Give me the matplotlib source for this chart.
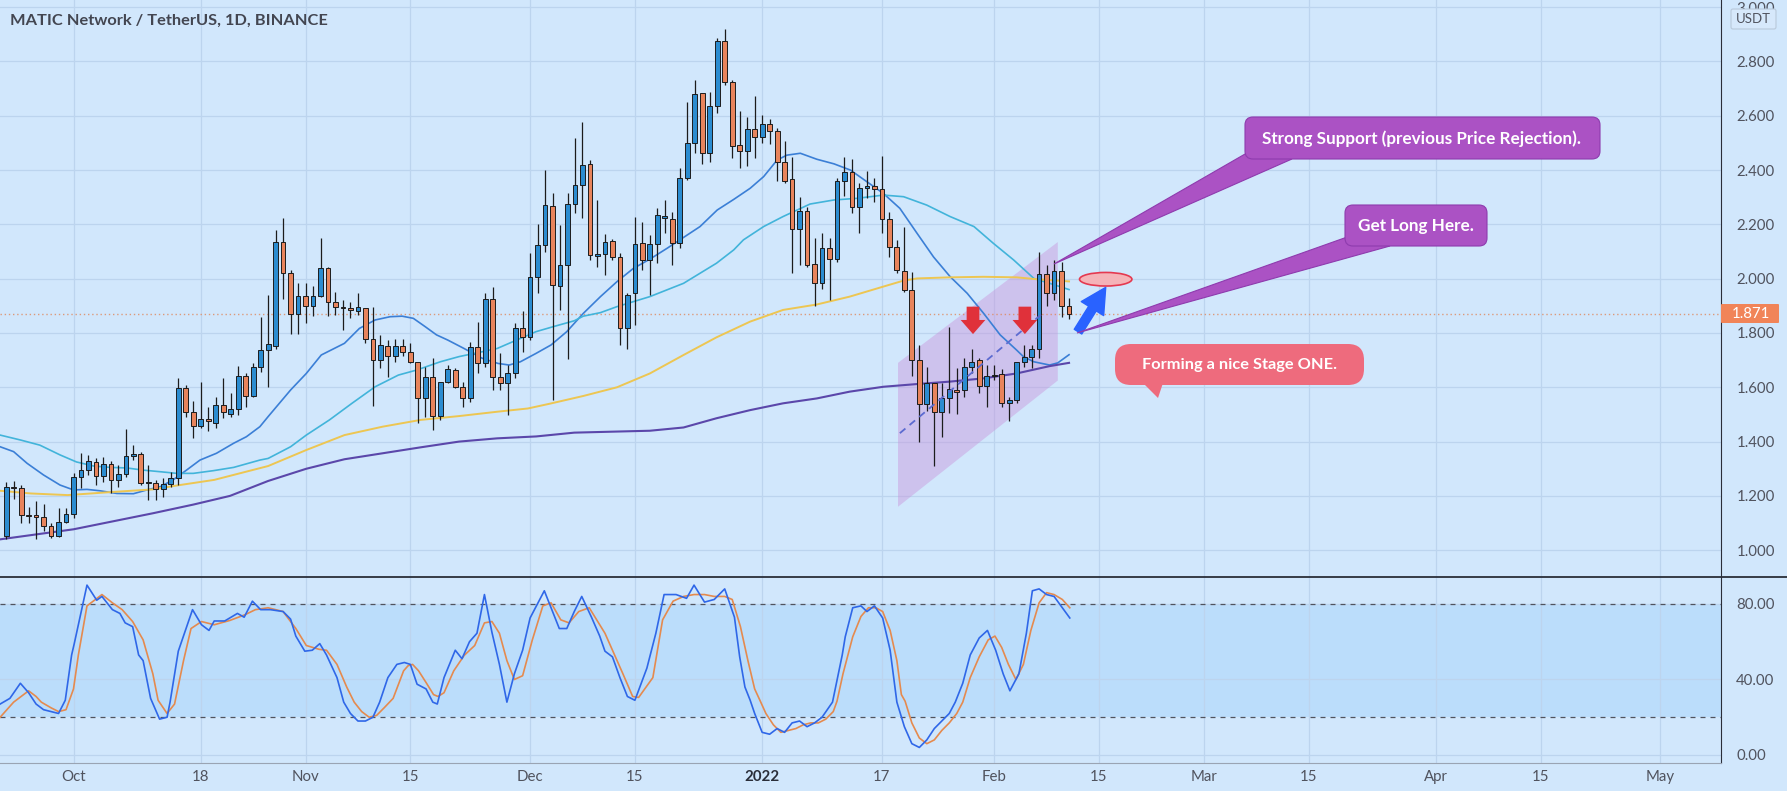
import matplotlib
matplotlib.use('Agg')
import matplotlib.pyplot as plt
from matplotlib.patches import Polygon, FancyBboxPatch, Ellipse
import numpy as np
import pandas as pd

W, H = 1787, 791

# daily candles 2021-09-22 .. 2022-02-11 (x = days since 2021-10-01)
start_date = '2021-09-22'
opens = [1.052, 1.234, 1.228, 1.130, 1.127, 1.124, 1.089, 1.052, 1.105, 1.133,
         1.268, 1.295, 1.326, 1.274, 1.317, 1.258, 1.279, 1.347, 1.354, 1.246,
         1.246, 1.224, 1.244, 1.265, 1.596, 1.508, 1.459, 1.482, 1.470, 1.535,
         1.502, 1.519, 1.641, 1.569, 1.676, 1.737, 1.753, 2.134, 2.020, 1.869,
         1.937, 1.901, 1.937, 2.038, 1.915, 1.894, 1.891, 1.882, 1.891, 1.777,
         1.700, 1.753, 1.715, 1.752, 1.729, 1.694, 1.559, 1.639, 1.495, 1.621,
         1.664, 1.600, 1.559, 1.750, 1.688, 1.924, 1.639, 1.615, 1.651, 1.817,
         1.784, 2.007, 2.124, 2.268, 1.973, 2.050, 2.275, 2.345, 2.421, 2.084,
         2.091, 2.140, 2.081, 1.817, 1.946, 2.130, 2.069, 2.127, 2.222, 2.220,
         2.130, 2.370, 2.499, 2.683, 2.464, 2.636, 2.875, 2.723, 2.492, 2.472,
         2.550, 2.521, 2.569, 2.545, 2.431, 2.366, 2.182, 2.249, 2.054, 1.983,
         2.112, 2.071, 2.360, 2.394, 2.263, 2.333, 2.343, 2.329, 2.219, 2.118,
         2.030, 1.958, 1.700, 1.538, 1.617, 1.508, 1.559, 1.590, 1.590, 1.674,
         1.700, 1.605, 1.642, 1.648, 1.541, 1.555, 1.694, 1.710, 1.740, 2.017,
         1.946, 2.030, 1.900]
highs = [1.250, 1.255, 1.240, 1.160, 1.180, 1.170, 1.100, 1.154, 1.154, 1.285,
         1.357, 1.351, 1.338, 1.344, 1.330, 1.314, 1.445, 1.387, 1.363, 1.314,
         1.258, 1.265, 1.289, 1.635, 1.608, 1.550, 1.621, 1.529, 1.565, 1.635,
         1.578, 1.678, 1.651, 1.688, 1.860, 1.940, 2.179, 2.222, 2.032, 1.983,
         1.983, 1.973, 2.151, 2.044, 1.952, 1.922, 1.915, 1.946, 1.891, 1.897,
         1.793, 1.774, 1.777, 1.777, 1.764, 1.694, 1.676, 1.707, 1.621, 1.682,
         1.670, 1.621, 1.768, 1.842, 1.946, 1.971, 1.725, 1.682, 1.836, 1.881,
         2.093, 2.200, 2.400, 2.317, 2.198, 2.317, 2.519, 2.578, 2.437, 2.290,
         2.163, 2.145, 2.094, 1.948, 2.226, 2.210, 2.161, 2.259, 2.290, 2.247,
         2.409, 2.652, 2.732, 2.683, 2.689, 2.885, 2.920, 2.732, 2.619, 2.597,
         2.673, 2.603, 2.588, 2.554, 2.507, 2.449, 2.302, 2.263, 2.149, 2.167,
         2.151, 2.370, 2.449, 2.440, 2.351, 2.397, 2.370, 2.453, 2.244, 2.143,
         2.192, 2.026, 1.756, 1.674, 1.617, 1.615, 1.823, 1.670, 1.707, 1.740,
         1.707, 1.682, 1.682, 1.666, 1.566, 1.694, 1.756, 1.756, 2.100, 2.050,
         2.070, 2.060, 1.930]
lows = [1.040, 1.190, 1.100, 1.100, 1.040, 1.070, 1.045, 1.048, 1.100, 1.120,
        1.228, 1.277, 1.240, 1.252, 1.212, 1.234, 1.271, 1.332, 1.240, 1.185,
        1.185, 1.197, 1.234, 1.240, 1.492, 1.412, 1.449, 1.440, 1.449, 1.486,
        1.492, 1.498, 1.529, 1.565, 1.658, 1.602, 1.740, 1.924, 1.795, 1.795,
        1.838, 1.864, 1.934, 1.864, 1.866, 1.811, 1.854, 1.866, 1.762, 1.531,
        1.670, 1.639, 1.694, 1.715, 1.688, 1.467, 1.489, 1.443, 1.480, 1.615,
        1.596, 1.529, 1.547, 1.651, 1.676, 1.590, 1.590, 1.498, 1.633, 1.731,
        1.774, 1.946, 2.100, 1.553, 1.885, 1.703, 2.241, 2.222, 2.069, 2.044,
        2.013, 2.069, 1.756, 1.740, 1.829, 2.032, 1.940, 2.057, 2.167, 2.050,
        2.112, 2.364, 2.462, 2.423, 2.431, 2.612, 2.713, 2.443, 2.407, 2.416,
        2.443, 2.501, 2.496, 2.361, 2.354, 2.020, 2.050, 2.044, 1.900, 1.961,
        1.922, 2.060, 2.305, 2.241, 2.167, 2.296, 2.284, 2.167, 2.080, 2.020,
        1.952, 1.642, 1.400, 1.514, 1.310, 1.416, 1.504, 1.502, 1.566, 1.651,
        1.580, 1.526, 1.627, 1.526, 1.477, 1.541, 1.676, 1.670, 1.707, 1.900,
        1.920, 1.860, 1.850]
closes = [1.234, 1.228, 1.130, 1.127, 1.124, 1.089, 1.052, 1.105, 1.133, 1.271,
          1.295, 1.328, 1.274, 1.317, 1.258, 1.281, 1.347, 1.354, 1.246, 1.246,
          1.224, 1.244, 1.265, 1.596, 1.508, 1.459, 1.482, 1.476, 1.535, 1.508,
          1.520, 1.641, 1.569, 1.676, 1.737, 1.758, 2.134, 2.020, 1.869, 1.937,
          1.901, 1.937, 2.038, 1.915, 1.894, 1.891, 1.885, 1.894, 1.777, 1.700,
          1.756, 1.715, 1.753, 1.729, 1.694, 1.559, 1.639, 1.495, 1.621, 1.666,
          1.600, 1.559, 1.750, 1.688, 1.924, 1.639, 1.615, 1.651, 1.817, 1.784,
          2.007, 2.124, 2.271, 1.977, 2.050, 2.275, 2.345, 2.419, 2.087, 2.091,
          2.136, 2.081, 1.817, 1.940, 2.127, 2.069, 2.127, 2.235, 2.232, 2.130,
          2.370, 2.499, 2.679, 2.464, 2.636, 2.875, 2.723, 2.490, 2.472, 2.550,
          2.521, 2.569, 2.545, 2.429, 2.360, 2.182, 2.249, 2.050, 1.983, 2.112,
          2.071, 2.360, 2.394, 2.263, 2.333, 2.343, 2.329, 2.219, 2.118, 2.032,
          1.958, 1.700, 1.538, 1.617, 1.508, 1.559, 1.593, 1.584, 1.674, 1.694,
          1.605, 1.642, 1.645, 1.541, 1.555, 1.694, 1.710, 1.740, 2.017, 1.946,
          2.030, 1.900, 1.871]

# moving averages (day, price)
ma_fast_d = [-9.8, -8, -6.2, -4, -1.8, 0, 1.8, 3.5, 5.8, 8, 9.8, 11.6, 13.3, 15.1, 16.9, 19.1,
             21.4, 23.1, 24.9, 26, 29, 31.1, 33.1, 36.2, 38.2, 40.3, 42.3, 43.9, 45.4, 47,
             48.5, 50, 52.1, 54.6, 56.7, 58.2, 59.7, 61.8, 63.8, 65.9, 68.1, 70.4, 72.6, 74.8,
             77, 79.3, 81.5, 83.7, 86, 88.2, 90.4, 92.2, 94, 95.3, 97.1, 99.3, 101.6, 103.8,
             106, 108.2, 110.4, 112.7, 114.9, 117.1, 119.4, 121.6, 123.8, 126, 126.9, 128.3,
             130.4, 131.5, 133]
ma_fast_v = [1.381, 1.363, 1.320, 1.277, 1.240, 1.222, 1.224, 1.219, 1.209, 1.208, 1.222, 1.234,
             1.259, 1.295, 1.332, 1.357, 1.394, 1.418, 1.455, 1.492, 1.590, 1.651, 1.719, 1.762,
             1.817, 1.848, 1.860, 1.862, 1.854, 1.823, 1.793, 1.774, 1.744, 1.707, 1.688, 1.682,
             1.694, 1.725, 1.756, 1.805, 1.872, 1.934, 1.989, 2.038, 2.072, 2.112, 2.152, 2.192,
             2.253, 2.292, 2.333, 2.376, 2.437, 2.455, 2.462, 2.440, 2.423, 2.400, 2.357, 2.314,
             2.259, 2.167, 2.080, 2.008, 1.946, 1.872, 1.793, 1.737, 1.713, 1.694, 1.682, 1.690,
             1.720]
ma_mid_d = [-9.8, -7.1, -4.5, -1.8, 0.4, 2.7, 4.9, 7.1, 9.3, 11.6, 13.8, 16, 18.7, 21.4, 24.9,
            26, 29, 31.1, 34.2, 37.2, 40.3, 43.4, 45.9, 49, 51.5, 54.6, 56.6, 59.2, 61.8, 64.3,
            66.9, 68.1, 70.4, 72.6, 77, 81.5, 85.9, 88.2, 89.5, 92.2, 94.8, 98.4, 101.6, 104.7,
            108.2, 110.9, 114, 117.1, 120.3, 122.9, 125.6, 128.3, 130.4, 133]
ma_mid_v = [1.424, 1.406, 1.387, 1.351, 1.325, 1.310, 1.305, 1.303, 1.295, 1.289, 1.283, 1.283,
            1.293, 1.305, 1.332, 1.338, 1.381, 1.424, 1.480, 1.541, 1.602, 1.645, 1.664, 1.694,
            1.713, 1.731, 1.743, 1.774, 1.805, 1.825, 1.845, 1.862, 1.875, 1.897, 1.934, 1.983,
            2.057, 2.106, 2.143, 2.192, 2.229, 2.275, 2.290, 2.296, 2.308, 2.302, 2.271, 2.229,
            2.192, 2.130, 2.069, 2.001, 1.983, 1.960]
ma_slow_d = [-9.8, -5.7, -0.8, 5.5, 10.6, 14.2, 18.8, 26, 31.1, 36.2, 41.3, 46.4, 51.5, 56.6,
             60.7, 63.7, 68.1, 72.6, 77, 81.5, 85.9, 90.4, 94.8, 99.3, 103.7, 108.2, 110.9,
             112.7, 117.1, 121.6, 126, 128.7, 130.4, 133]
ma_slow_v = [1.219, 1.209, 1.203, 1.215, 1.224, 1.240, 1.259, 1.310, 1.369, 1.424, 1.455, 1.480,
             1.494, 1.510, 1.522, 1.540, 1.568, 1.600, 1.651, 1.719, 1.784, 1.842, 1.885, 1.905,
             1.934, 1.971, 1.993, 2.001, 2.005, 2.007, 2.005, 1.998, 1.995, 1.990]
ma_200_d = [-9.8, 0, 10.6, 16, 20.9, 26, 31.1, 36.2, 41.3, 46.4, 51.5, 56.6, 61.8, 66.9, 72.6,
            77, 81.5, 85.9, 90.4, 94.8, 99.3, 103.7, 108.2, 112.7, 117.1, 121.6, 126, 130.4, 133]
ma_200_v = [1.040, 1.077, 1.136, 1.168, 1.200, 1.255, 1.300, 1.335, 1.357, 1.379, 1.400, 1.412,
            1.419, 1.433, 1.437, 1.440, 1.452, 1.486, 1.516, 1.541, 1.559, 1.584, 1.602, 1.612,
            1.621, 1.633, 1.651, 1.678, 1.690]

# stochastic %K / %D (day, value)
k_d = [-9.8, -8.5, -7.1, -6, -5, -4, -3, -2, -1.1, -0.25, 0.1, 1.8, 3.1, 3.8, 5.2, 6.2, 6.9, 7.9,
       8.7, 9.3, 10.3, 11.5, 12.5, 12.9, 14.0, 15.9, 17.1, 18.1, 18.8, 20.2, 21.9, 22.8, 23.9, 25,
       26.3, 28, 29, 29.7, 30.9, 31.9, 32.9, 33.8, 35.2, 36.1, 37, 38, 39, 40, 40.9, 42, 43.2,
       44.2, 45, 45.9, 47.1, 48, 48.6, 49.5, 51, 51.9, 52.9, 53.9, 54.9, 55.9, 56.9, 57.9, 58.9,
       60, 61, 62.9, 63.9, 64.9, 65.9, 66.9, 67.9, 69.2, 70.3, 71, 72, 73, 74, 75, 76.6, 77.8,
       78.9, 80.5, 81.9, 82.9, 84.3, 85.6, 87, 87.7, 88.3, 89, 89.7, 90.4, 91, 92, 93, 94, 95,
       96, 97, 98, 99, 100, 101.4, 102.7, 103.1, 104.1, 105.2, 106, 107, 108.1, 109.1, 110, 111,
       112, 113, 114, 115, 116, 117, 117.8, 118.8, 119.8, 121, 122.1, 123.2, 124.2, 125.1,
       126.3, 127.3, 128.1, 129, 130, 131, 132.1, 133.1]
k_v = [27, 30, 38, 33, 27, 24, 23, 22, 29, 53, 59, 90, 82, 84, 77, 75, 70, 68,
       53, 50, 30, 19, 20, 28, 55, 77, 69, 66, 71, 71, 75, 73, 81.5, 77,
       77, 76, 72, 63, 55, 55.5, 59, 53, 41, 28, 22, 18, 18, 20, 28, 41, 48,
       49, 48, 37.5, 35, 28, 27, 41, 55.5, 51, 60, 64.5, 85, 65, 48, 28, 43,
       55.5, 72.6, 87, 77, 67, 67, 76, 84, 73, 63, 55, 52, 41, 31, 29, 46, 64.5,
       85, 85, 83, 90, 81, 82.4, 88, 80, 73, 52, 36, 29, 22, 12, 11, 14, 12,
       17, 18, 15, 17, 20, 28, 53, 62.6, 78, 79, 76, 79, 72.6, 55.5, 28, 15,
       6, 4, 8, 14, 18, 22, 28, 38, 53, 62, 66, 55.5, 43, 34,
       43, 64.5, 87, 88, 85, 84, 78, 72.6]
d_d = [-9.8, -8, -6, -5, -4.3, -3, -2, -1, 0, 0.65, 1.8, 3.8, 5.2, 6.5, 7.9, 9.3, 10.6, 11.3,
       12.5, 13.5, 14.7, 15.7, 17.1, 18.8, 20.9, 22.9, 24.3, 26, 28, 29.7, 31.1, 32.8, 33.8,
       35.2, 36.5, 37.5, 38.5, 39.5, 40.5, 41.5, 42.7, 44.1, 44.7, 45.3, 46.1, 47.1, 48.1, 48.7,
       49.5, 50.8, 52.2, 53.6, 54.9, 55.9, 56.9, 57.9, 58.9, 60, 61.3, 62.7, 63.8, 65.1, 66.2,
       67.5, 68.9, 69.9, 71, 72, 73.4, 74.7, 75.5, 76.5, 77.4, 78.7, 80.1, 81.5, 82.9, 84.3,
       85.6, 87, 88, 89.1, 90.1, 91, 91.7, 92.5, 93.5, 94.5, 95.5, 96.5, 97.5, 98.5, 99.5,
       100.5, 101.5, 102, 102.8, 104.1, 105.2, 106.2, 107.2, 108.1, 109.1, 110, 110.6, 111.1,
       112, 113, 114, 115, 116, 117, 118, 118.8, 119.8, 121, 122.2, 123.1, 124, 124.9, 125.9,
       126.9, 127.9, 129, 130, 131, 132.1, 133.1]
d_v = [20, 28, 34, 31, 28, 25, 23, 24, 35, 53, 79, 85, 80.6, 77, 70.7, 61, 43, 29,
       22, 27, 50, 67, 70.7, 69, 71.3, 74.3, 77, 78, 76, 67, 58, 56, 55.5,
       48, 36, 28, 23, 20, 21, 25, 30, 44.6, 47.3, 48, 44.6, 38.4, 32, 31,
       33, 44.6, 52.8, 58, 70, 70.7, 64.5, 50, 40, 42, 61, 79, 80.6, 71.6, 70,
       76, 78, 71.6, 64.5, 55.5, 43, 31, 30.5, 36, 41, 71.6, 81.5, 84, 85, 85,
       84, 84, 82.4, 68, 50, 35, 29, 22, 16, 12, 13, 14, 16, 17, 17,
       19, 23, 28.5, 43, 62.6, 73.4, 78, 78, 76, 66, 50, 32, 28.5,
       17, 9, 6, 8, 13, 17, 22, 28, 41, 52, 61, 63, 57, 48, 40,
       48, 66, 80.6, 86, 85, 82.4, 78]

tick_dates = ['2021-10-01', '2021-10-18', '2021-11-01', '2021-11-15', '2021-12-01', '2021-12-15',
              '2022-01-01', '2022-01-17', '2022-02-01', '2022-02-15', '2022-03-01', '2022-03-15',
              '2022-04-01', '2022-04-15', '2022-05-01']
tick_labels = ['Oct', '18', 'Nov', '15', 'Dec', '15', '2022', '17', 'Feb', '15', 'Mar', '15',
               'Apr', '15', 'May']
price_ticks = [1.0, 1.2, 1.4, 1.6, 1.8, 2.0, 2.2, 2.4, 2.6, 2.8, 3.0]
last_price = 1.871

BG = '#D1E7FC'
GRID = '#BCD4EE'
UP = '#2B8CD0'
DOWN = '#E8845C'
TXT = '#50535e'
DARK = '#2a2e39'
plt.rcParams['font.family'] = ['Lato', 'DejaVu Sans']

base = pd.Timestamp('2021-10-01')
days = np.array([(t - base).days for t in pd.date_range(start_date, periods=len(opens))])
tdays = [(pd.Timestamp(t) - base).days for t in tick_dates]
o, h, l, c = map(np.array, (opens, highs, lows, closes))

fig = plt.figure(figsize=(W / 100, H / 100), dpi=100, facecolor=BG)
ax = fig.add_axes([0, 214 / H, 1721 / W, 577 / H])
ax2 = fig.add_axes([0, 28 / H, 1721 / W, 186 / H], sharex=ax)
for a in (ax, ax2):
    a.set_facecolor(BG)
    a.grid(True, color=GRID, lw=0.9)
    a.set_axisbelow(True)
    for s in ('left', 'top', 'bottom'):
        a.spines[s].set_visible(False)
    a.spines['right'].set_color(DARK)
    a.yaxis.tick_right()
    a.tick_params(axis='y', length=0, pad=11, labelsize=10.8, labelcolor=TXT)
    a.tick_params(axis='x', length=0)
ax2.spines['bottom'].set_visible(True)
ax2.spines['bottom'].set_color('#9aa4b3')

ax.set_xlim(-9.82, 220.1)
ax.set_ylim(0.9013, 3.0265)
ax.set_yticks(price_ticks)
ax.set_yticklabels(['%.3f' % v for v in price_ticks])
ax.tick_params(axis='x', labelbottom=False)

# candles
up = c >= o
cols = np.where(up, UP, DOWN)
ax.vlines(days, l, h, color='#1c1c1c', lw=0.9, zorder=3)
ax.bar(days, np.maximum(np.abs(c - o), 0.004), bottom=np.minimum(o, c), width=0.64,
       color=cols, edgecolor='#1c1c1c', linewidth=0.7, zorder=4)

# moving averages
ax.plot(ma_fast_d, ma_fast_v, color='#3B7FD6', lw=1.2, zorder=2.5)
ax.plot(ma_mid_d, ma_mid_v, color='#42B4DA', lw=1.2, zorder=2.5)
ax.plot(ma_slow_d, ma_slow_v, color='#EDC652', lw=1.4, zorder=2.5)
ax.plot(ma_200_d, ma_200_v, color='#5B47AA', lw=1.5, zorder=2.5)
ax.axhline(last_price, color='#E0875A', lw=1, ls=(0, (1, 2)), alpha=0.8, zorder=2)

# channel + drawings
ax.add_patch(Polygon([(110.15, 1.69), (131.5, 2.135), (131.5, 1.625), (110.15, 1.16)],
                     closed=True, facecolor='#C98FDA', alpha=0.42, lw=0, zorder=1.5))
ax.plot([110.4, 129.8], [1.431, 1.880], color='#5C6BD0', lw=1.3, ls=(0, (4, 3)), zorder=5)
for cx in (120.17, 127.1):
    ax.add_patch(Polygon([(cx - 0.85, 1.897), (cx + 0.85, 1.897), (cx + 0.85, 1.848),
                          (cx + 1.65, 1.848), (cx, 1.796), (cx - 1.65, 1.848), (cx - 0.85, 1.848)],
                         closed=True, facecolor='#E0313A', lw=0, zorder=6))
ax.add_patch(Ellipse((137.9, 1.998), 7, 0.05, facecolor='#F5B3B8', edgecolor='#E53950',
                     lw=1.2, zorder=6))
ax.annotate('', xy=(137.9, 1.968), xytext=(134.2, 1.805),
            arrowprops=dict(arrowstyle='simple,head_length=0.9,head_width=0.95,tail_width=0.32',
                            color='#2962FF', shrinkA=0, shrinkB=0, mutation_scale=20), zorder=6)

# stochastic pane
ax2.set_ylim(-4.24, 94.3)
ax2.axhspan(20, 80, color='#BBDDFB', zorder=0.5, lw=0)
ax2.axhline(80, color='#50535e', lw=0.9, ls=(0, (4, 4)), zorder=1)
ax2.axhline(20, color='#50535e', lw=0.9, ls=(0, (4, 4)), zorder=1)
ax2.set_yticks([0, 40, 80])
ax2.set_yticklabels(['0.00', '40.00', '80.00'])
ax2.plot(k_d, k_v, color='#2F67E8', lw=1.2, zorder=3)
ax2.plot(d_d, d_v, color='#E58A4E', lw=1.2, zorder=2.8)
ax2.set_xticks(tdays)
ax2.set_xticklabels(tick_labels)
ax2.tick_params(axis='x', pad=5, labelsize=10.8, labelcolor=TXT)
for lab in ax2.get_xticklabels():
    if lab.get_text() == '2022':
        lab.set_fontweight('bold')
        lab.set_color(DARK)

# overlay in pixel coordinates for labels and callouts
ov = fig.add_axes([0, 0, 1, 1], zorder=10)
ov.set_xlim(0, W)
ov.set_ylim(H, 0)
ov.axis('off')
ov.patch.set_alpha(0)

ov.plot([0, W], [577, 577], color=DARK, lw=1.3)
ov.text(10, 21, 'MATIC Network / TetherUS, 1D, BINANCE', fontsize=11.8, fontweight='bold',
        color='#434651', va='center', ha='left')
ov.add_patch(FancyBboxPatch((1731, 9), 45, 20, boxstyle='round,pad=0,rounding_size=2',
                            facecolor='#D6E8FB', edgecolor='#B9C9DA', lw=0.8))
ov.text(1753.5, 19, 'USDT', fontsize=9.5, color=TXT, ha='center', va='center')
ov.add_patch(FancyBboxPatch((1721, 304), 58, 19, boxstyle='round,pad=0,rounding_size=1',
                            facecolor='#F18458', edgecolor='none'))
ov.text(1751, 313.5, '%.3f' % last_price, fontsize=10.8, color='white', ha='center', va='center')

PURP = '#AB52C4'
FS = 12.3
ov.add_patch(Polygon([(1252, 150), (1292, 159), (1054, 264)], closed=True, facecolor=PURP,
                     edgecolor='#8E3BAE', lw=0.8))
ov.add_patch(FancyBboxPatch((1245, 117), 355, 42, boxstyle='round,pad=0,rounding_size=8',
                            facecolor=PURP, edgecolor='#8E3BAE', lw=0.8))
ov.text(1422, 138.5, 'Strong Support (previous Price Rejection).', fontsize=FS,
        fontweight='bold', color='white', ha='center', va='center')

ov.add_patch(Polygon([(1350, 236), (1390, 246), (1077, 333)], closed=True, facecolor=PURP,
                     edgecolor='#8E3BAE', lw=0.8))
ov.add_patch(FancyBboxPatch((1345, 205), 142, 41, boxstyle='round,pad=0,rounding_size=8',
                            facecolor=PURP, edgecolor='#8E3BAE', lw=0.8))
ov.text(1416, 226, 'Get Long Here.', fontsize=FS, fontweight='bold', color='white',
        ha='center', va='center')

PINK = '#EE6B7D'
ov.add_patch(Polygon([(1143, 383), (1163, 383), (1158, 398)], closed=True, facecolor=PINK, lw=0))
ov.add_patch(FancyBboxPatch((1115, 344), 249, 41, boxstyle='round,pad=0,rounding_size=16',
                            facecolor=PINK, edgecolor='none'))
ov.text(1240, 365, 'Forming a nice Stage ONE.', fontsize=FS - 0.5, fontweight='bold',
        color='white', ha='center', va='center')

fig.savefig('out.png', dpi=100, facecolor=BG)
